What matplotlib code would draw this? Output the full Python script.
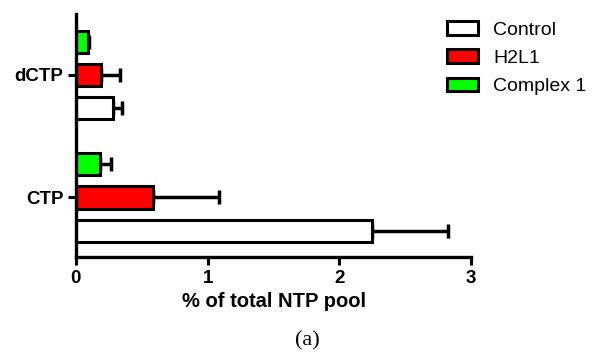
import matplotlib
matplotlib.use("Agg")
import matplotlib.pyplot as plt
import numpy as np

categories = ["CTP", "dCTP"]
series = ["Control", "H2L1", "Complex 1"]
colors = ["white", "#ff0000", "#00ff00"]
values = {
    "Control": [2.245, 0.28],
    "H2L1": [0.585, 0.195],
    "Complex 1": [0.18, 0.093],
}
errors = {
    "Control": [0.58, 0.07],
    "H2L1": [0.50, 0.14],
    "Complex 1": [0.09, 0.01],
}
xticks = [0, 1, 2, 3]

fig = plt.figure(figsize=(5.92, 3.56), dpi=100)
ax = fig.add_axes([0.128, 0.278, 0.668, 0.683])

y = np.arange(len(categories))
offs = [-0.27, 0.0, 0.27]
for s, c, o in zip(series, colors, offs):
    v = values[s]
    e = errors[s]
    ax.barh(y + o, v, height=0.18, color=c, edgecolor="black", linewidth=2.2,
            label=s, zorder=2)
    ax.errorbar(v, y + o, xerr=[np.zeros(len(e)), e], fmt="none", ecolor="black",
                elinewidth=2.5, capsize=5, capthick=2.5, zorder=1)

ax.set_xlim(0, 3)
ax.set_ylim(-0.486, 1.498)
ax.set_xticks(xticks)
ax.set_xticklabels([str(t) for t in xticks], fontsize=13.5, fontweight="bold",
                   family="Liberation Sans")
ax.set_yticks(y)
ax.set_yticklabels(categories, fontsize=13.5, fontweight="bold", family="Liberation Sans")
ax.set_xlabel("% of total NTP pool", fontsize=14.5, fontweight="bold",
              family="Liberation Sans", labelpad=4)
for sp in ["top", "right"]:
    ax.spines[sp].set_visible(False)
for sp in ["left", "bottom"]:
    ax.spines[sp].set_linewidth(2.4)
ax.tick_params(axis="both", direction="out", length=6, width=2.2, pad=3)

handles, labels = ax.get_legend_handles_labels()
fig.legend(handles, labels, loc="upper left", bbox_to_anchor=(0.726, 0.99),
           frameon=False, prop={"family": "Liberation Sans", "size": 14},
           handlelength=1.6, handleheight=0.7, handletextpad=0.75,
           labelspacing=0.55)

fig.text(0.52, 0.015, "(a)", ha="center", va="bottom", fontsize=16,
         family="Liberation Serif")

fig.savefig("out.png", dpi=100)
